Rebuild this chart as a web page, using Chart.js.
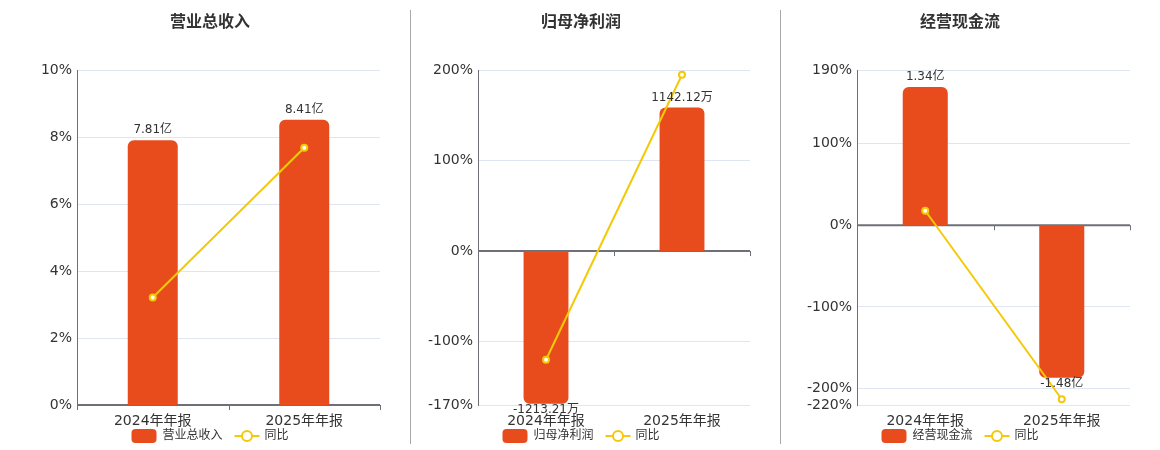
<!DOCTYPE html>
<html><head><meta charset="utf-8">
<script src="https://cdn.jsdelivr.net/npm/chart.js@4.4.1/dist/chart.umd.min.js"></script>
<style>
html,body{margin:0;padding:0;background:#fff}
body{width:1160px;height:450px;position:relative;overflow:hidden}
.p{position:absolute;top:0;height:450px}
.sep{position:absolute;top:10px;height:434px;width:1px;background:#a8a8a8}
</style></head><body>
<div class="p" style="left:0;width:410px"><canvas id="c0"></canvas></div>
<div class="sep" style="left:410px"></div>
<div class="p" style="left:411px;width:369px"><canvas id="c1"></canvas></div>
<div class="sep" style="left:780px"></div>
<div class="p" style="left:781px;width:379px"><canvas id="c2"></canvas></div>
<script>
const categories = ['2024年年报', '2025年年报'];

const revenueValues = [7.81, 8.41];        // 亿
const revenueYoY = [3.21, 7.68];           // %
const revenueTicks = [0, 2, 4, 6, 8, 10];

const profitValues = [-1213.21, 1142.12];  // 万
const profitYoY = [-120, 194.8];
const profitTicks = [-170, -100, 0, 100, 200];

const cashValues = [1.34, -1.48];          // 亿
const cashYoY = [17.7, -213];
const cashTicks = [-220, -200, -100, 0, 100, 190];

const BAR = '#E84C1D';
const LINE = '#F4C907';
const FONT = '"DejaVu Sans", "Noto Sans CJK SC", sans-serif';
const TXT = '#333';

const panels = [
  {id:'c0', title:'营业总收入', values:revenueValues, yoy:revenueYoY, ticks:revenueTicks, unit:'亿',
   barMin:0, barMax:9.88, left:0, width:410, areaLeft:77, areaRight:380, cx:210},
  {id:'c1', title:'归母净利润', values:profitValues, yoy:profitYoY, ticks:profitTicks, unit:'万',
   barMin:-1224, barMax:1440, left:411, width:369, areaLeft:478, areaRight:750, cx:581},
  {id:'c2', title:'经营现金流', values:cashValues, yoy:cashYoY, ticks:cashTicks, unit:'亿',
   barMin:-1.7435, barMax:1.506, left:781, width:379, areaLeft:857, areaRight:1130, cx:960}
];

function makeDecor(p) {
  return {
    id: 'decor',
    beforeDatasetsDraw(chart) {
      const {ctx, chartArea} = chart;
      const y = chart.scales.y.getPixelForValue(0);
      ctx.save();
      ctx.strokeStyle = '#6E7079';
      ctx.lineWidth = 2;
      ctx.beginPath();
      ctx.moveTo(chartArea.left, y);
      ctx.lineTo(chartArea.right, y);
      ctx.stroke();
      ctx.lineWidth = 1;
      const n = categories.length;
      for (let i = 0; i <= n; i++) {
        const x = Math.round(chartArea.left + (chartArea.right - chartArea.left) * i / n) + 0.5;
        ctx.beginPath();
        ctx.moveTo(x, y);
        ctx.lineTo(x, y + 5);
        ctx.stroke();
      }
      ctx.restore();
    },
    afterDatasetsDraw(chart) {
      const {ctx} = chart;
      ctx.save();
      // bar value labels
      const meta = chart.getDatasetMeta(1);
      ctx.font = '12px ' + FONT;
      ctx.fillStyle = TXT;
      ctx.textAlign = 'center';
      ctx.textBaseline = 'middle';
      meta.data.forEach((el, i) => {
        const v = p.values[i];
        const s = v.toFixed(2) + p.unit;
        ctx.fillText(s, el.x, v >= 0 ? el.y - 10 : el.y + 6);
      });
      // title
      const ox = p.left;
      ctx.font = 'bold 16px ' + FONT;
      ctx.fillText(p.title, p.cx - ox, 23);
      // legend
      ctx.font = '12px ' + FONT;
      const w1 = ctx.measureText(p.title).width;
      const w2 = ctx.measureText('同比').width;
      const total = 25 + 6 + w1 + 12 + 25 + 5 + w2;
      let x = p.cx - ox - total / 2;
      const ly = 436;
      ctx.fillStyle = BAR;
      ctx.beginPath();
      ctx.roundRect(x, ly - 7, 25, 14, 4);
      ctx.fill();
      x += 31;
      ctx.fillStyle = TXT;
      ctx.textAlign = 'left';
      ctx.fillText(p.title, x, ly);
      x += w1 + 12;
      ctx.strokeStyle = LINE;
      ctx.lineWidth = 2;
      ctx.beginPath();
      ctx.moveTo(x, ly);
      ctx.lineTo(x + 25, ly);
      ctx.stroke();
      ctx.beginPath();
      ctx.arc(x + 12.5, ly, 5, 0, Math.PI * 2);
      ctx.fillStyle = '#fff';
      ctx.fill();
      ctx.stroke();
      x += 30;
      ctx.fillStyle = TXT;
      ctx.fillText('同比', x, ly);
      ctx.restore();
    }
  };
}

panels.forEach(p => {
  const tmin = Math.min(...p.ticks), tmax = Math.max(...p.ticks);
  new Chart(document.getElementById(p.id), {
    data: {
      labels: categories,
      datasets: [
        {type:'line', label:'同比', data:p.yoy, yAxisID:'y', borderColor:LINE, borderWidth:2,
         pointRadius:3, pointBorderWidth:2, pointBackgroundColor:'#fff', pointBorderColor:LINE,
         tension:0, order:0},
        {type:'bar', label:p.title, data:p.values, yAxisID:'y2', backgroundColor:BAR,
         borderRadius:6, borderSkipped:'start', barPercentage:1, categoryPercentage:0.33, order:1}
      ]
    },
    options: {
      responsive:true, maintainAspectRatio:false, animation:false,
      layout:{padding:{left:0, right:p.width - (p.areaRight - p.left), top:70, bottom:15}},
      plugins:{legend:{display:false}, tooltip:{enabled:false}, title:{display:false}},
      scales:{
        x:{grid:{display:false}, border:{display:false},
           ticks:{color:TXT, font:{size:14, family:FONT}, padding:0, maxRotation:0},
           afterFit:s=>{s.height = 30;}},
        y:{position:'left', min:tmin, max:tmax,
           afterBuildTicks:s=>{s.ticks = p.ticks.map(v=>({value:v}));},
           ticks:{color:TXT, font:{size:14, family:FONT}, padding:5, callback:v=>v + '%'},
           grid:{color:'#E0E6F1', drawTicks:false},
           border:{display:true, color:'#6E7079', width:1},
           afterFit:s=>{s.width = p.areaLeft - p.left;}},
        y2:{display:false, min:p.barMin, max:p.barMax}
      }
    },
    plugins:[makeDecor(p)]
  });
});
</script>
</body></html>
